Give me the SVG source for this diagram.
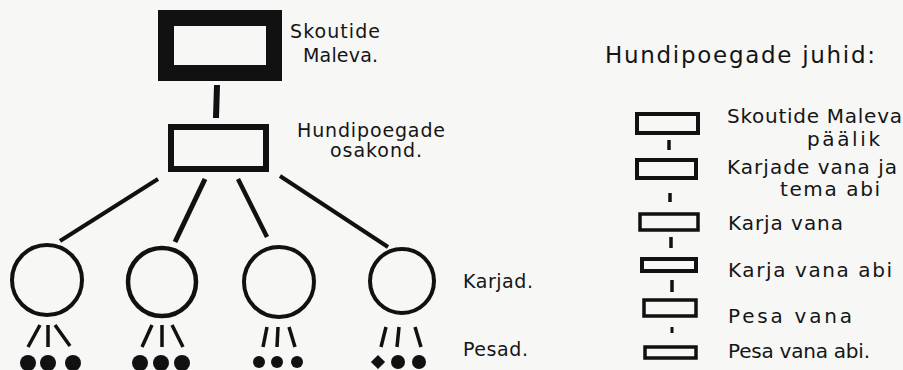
<svg xmlns="http://www.w3.org/2000/svg" width="903" height="370" viewBox="0 0 903 370">
<style>
text{font-family:"DejaVu Sans","Liberation Sans",sans-serif;fill:#151515;font-size:19px}
.r{font-size:20px}
.t{font-size:23px}
.ln{stroke:#111;stroke-linecap:butt;fill:none}
.bx{fill:none;stroke:#111}
.dot{fill:#111}
</style>
<rect width="903" height="370" fill="#f7f7f5"/>
<g id="maleva">
<rect class="bx" x="166" y="18" width="108" height="55" stroke-width="16"/>
<text x="290" y="38" textLength="90" lengthAdjust="spacing">Skoutide</text>
<text x="303" y="62" textLength="75" lengthAdjust="spacing">Maleva.</text>
</g>
<g id="osakond">
<rect class="bx" x="171" y="127" width="95" height="42" stroke-width="6"/>
<text x="297" y="137" textLength="148" lengthAdjust="spacing">Hundipoegade</text>
<text x="330" y="157" textLength="92" lengthAdjust="spacing">osakond.</text>
</g>
<g id="karjad">
<circle class="bx" cx="47" cy="280" r="35" stroke-width="4"/>
<circle class="bx" cx="162" cy="282" r="34" stroke-width="4.5"/>
<circle class="bx" cx="279" cy="282" r="35" stroke-width="4"/>
<circle class="bx" cx="402" cy="281" r="32" stroke-width="4"/>
<text x="463" y="288" textLength="70" lengthAdjust="spacing">Karjad.</text>
</g>
<g id="pesad">
<circle class="dot" cx="28" cy="363" r="8"/><circle class="dot" cx="48" cy="363" r="8"/><circle class="dot" cx="73" cy="363" r="8"/>
<circle class="dot" cx="140" cy="363" r="8"/><circle class="dot" cx="161" cy="363" r="8"/><circle class="dot" cx="182" cy="363" r="8"/>
<circle class="dot" cx="259" cy="362" r="6"/><circle class="dot" cx="277" cy="362" r="6"/><circle class="dot" cx="297" cy="362" r="6"/>
<rect class="dot" x="373" y="357" width="10" height="10" transform="rotate(45 378 362)"/><circle class="dot" cx="398" cy="362" r="7"/><circle class="dot" cx="419" cy="362" r="7"/>
<text x="463" y="356" textLength="65" lengthAdjust="spacing">Pesad.</text>
</g>
<g id="juhid">
<text class="t" x="605" y="63" textLength="270" lengthAdjust="spacing">Hundipoegade juhid:</text>
<rect class="bx" x="637" y="114" width="61" height="19" stroke-width="4"/>
<rect class="bx" x="637" y="160" width="59" height="18" stroke-width="4"/>
<rect class="bx" x="640" y="214" width="58" height="16" stroke-width="3.5"/>
<rect class="bx" x="642" y="259" width="54" height="12" stroke-width="4"/>
<rect class="bx" x="644" y="300" width="52" height="16" stroke-width="3.5"/>
<rect class="bx" x="645" y="347" width="51" height="11" stroke-width="3.5"/>
<text class="r" x="727" y="123" textLength="175" lengthAdjust="spacing">Skoutide Maleva</text>
<text class="r" x="807" y="146" textLength="73" lengthAdjust="spacing">päälik</text>
<text class="r" x="727" y="174" textLength="170" lengthAdjust="spacing">Karjade vana ja</text>
<text class="r" x="780" y="196" textLength="100" lengthAdjust="spacing">tema abi</text>
<text class="r" x="728" y="230" textLength="115" lengthAdjust="spacing">Karja vana</text>
<text class="r" x="728" y="277" textLength="164" lengthAdjust="spacing">Karja vana abi</text>
<text class="r" x="728" y="323" textLength="124" lengthAdjust="spacing">Pesa vana</text>
<text class="r" x="728" y="358" textLength="142" lengthAdjust="spacing">Pesa vana abi.</text>
</g>
<g id="connectors">
<line class="ln" x1="217" y1="85" x2="216" y2="118" stroke-width="6"/>
<line class="ln" x1="158" y1="179" x2="60" y2="241" stroke-width="4"/>
<line class="ln" x1="205" y1="179" x2="175" y2="242" stroke-width="5"/>
<line class="ln" x1="238" y1="179" x2="267" y2="237" stroke-width="4.5"/>
<line class="ln" x1="280" y1="176" x2="388" y2="247" stroke-width="4"/>
<line class="ln" x1="40" y1="325" x2="28" y2="347" stroke-width="3.5"/>
<line class="ln" x1="48" y1="325" x2="48" y2="347" stroke-width="3.5"/>
<line class="ln" x1="55" y1="325" x2="70" y2="346" stroke-width="3.5"/>
<line class="ln" x1="152" y1="325" x2="142" y2="347" stroke-width="3.5"/>
<line class="ln" x1="162" y1="325" x2="162" y2="347" stroke-width="3.5"/>
<line class="ln" x1="172" y1="325" x2="183" y2="347" stroke-width="3.5"/>
<line class="ln" x1="267" y1="327" x2="263" y2="347" stroke-width="3.5"/>
<line class="ln" x1="278" y1="327" x2="277" y2="347" stroke-width="3.5"/>
<line class="ln" x1="289" y1="327" x2="295" y2="347" stroke-width="3.5"/>
<line class="ln" x1="386" y1="327" x2="381" y2="347" stroke-width="3.5"/>
<line class="ln" x1="399" y1="327" x2="397" y2="347" stroke-width="3.5"/>
<line class="ln" x1="415" y1="327" x2="421" y2="347" stroke-width="3.5"/>
<line class="ln" x1="669" y1="140" x2="669" y2="150" stroke-width="3.5"/>
<line class="ln" x1="670" y1="193" x2="670" y2="202" stroke-width="3.5"/>
<line class="ln" x1="671" y1="237" x2="671" y2="248" stroke-width="3.5"/>
<line class="ln" x1="672" y1="280" x2="672" y2="292" stroke-width="3.5"/>
<line class="ln" x1="672" y1="327" x2="672" y2="333" stroke-width="3"/>
</g>
</svg>
